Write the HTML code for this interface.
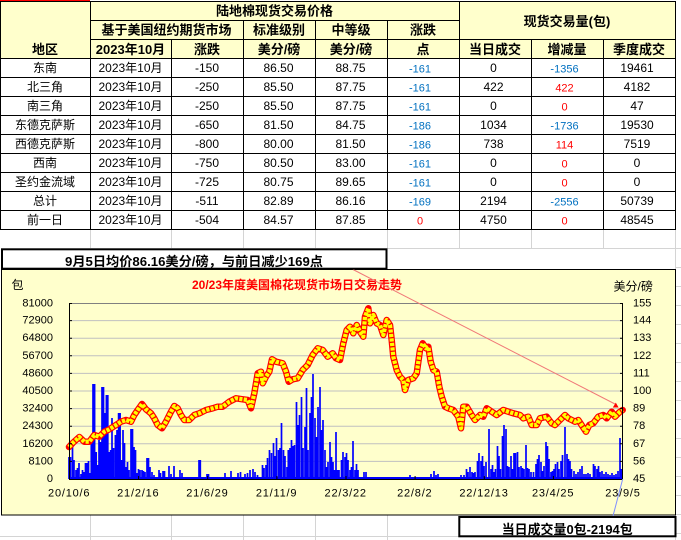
<!DOCTYPE html>
<html><head><meta charset="utf-8"><style>
html,body{margin:0;padding:0;background:#fff;}
svg{display:block;}
text{font-family:"Liberation Sans","Noto Sans CJK SC",sans-serif;dominant-baseline:central;}
.h{font-size:13px;font-weight:bold;fill:#000;text-anchor:middle;}
.d{font-size:12px;fill:#000;text-anchor:middle;}
.b{font-size:11px;fill:#0070C0;text-anchor:middle;}
.r{font-size:11px;fill:#FF0000;text-anchor:middle;}
.ax{font-size:11px;fill:#000;}
</style></head><body>
<svg width="681" height="540" viewBox="0 0 681 540" xmlns="http://www.w3.org/2000/svg">
<rect width="681" height="540" fill="#fff"/>
<g stroke="#D4D4D4" stroke-width="1">
<path d="M90.5 229V248M171.5 229V248M243.5 229V248M315.5 229V248M387.5 229V248M459.5 229V248M531.5 229V248M603.5 229V248M675.5 229V540"/>
<path d="M387 248.5H681M90.5 515V540M171.5 515V540M243.5 515V540M315.5 515V540M387.5 515V540M0 536.5H459"/>
<path d="M675 267.5H681M675 286.5H681M675 305.5H681M675 324.5H681M675 343.5H681M675 362.5H681M675 381.5H681M675 400.5H681M675 419.5H681M675 438.5H681M675 457.5H681M675 476.5H681M675 495.5H681M675 514.5H681M675 533.5H681"/>
</g>
<rect x="0" y="1" width="675" height="57" fill="#FFFFCC"/>
<rect x="0" y="0" width="90" height="1" fill="#FF0000"/>
<g stroke="#000" stroke-width="1">
<path d="M0 1.5H676M90 20.5H459M90 39.5H676M0 58.5H676M0 77.5H676M0 96.5H676M0 115.5H676M0 134.5H676M0 153.5H676M0 172.5H676M0 191.5H676M0 210.5H676M0 229.5H676"/>
<path d="M0.5 1V230M90.5 1V230M171.5 39V230M243.5 20V230M315.5 20V230M387.5 20V230M459.5 1V230M531.5 39V230M603.5 39V230M675.5 1V230"/>
</g>
<text class="h" x="274.5" y="11">陆地棉现货交易价格</text>
<text class="h" x="567" y="21.5">现货交易量(包)</text>
<text class="h" x="166.5" y="30">基于美国纽约期货市场</text>
<text class="h" x="279" y="30">标准级别</text>
<text class="h" x="351" y="30">中等级</text>
<text class="h" x="423" y="30">涨跌</text>
<text class="h" x="45" y="49.3">地区</text>
<text class="h" x="130.5" y="49.3">2023年10月</text>
<text class="h" x="207" y="49.3">涨跌</text>
<text class="h" x="279" y="49.3">美分/磅</text>
<text class="h" x="351" y="49.3">美分/磅</text>
<text class="h" x="423" y="49.3">点</text>
<text class="h" x="495" y="49.3">当日成交</text>
<text class="h" x="567" y="49.3">增减量</text>
<text class="h" x="639" y="49.3">季度成交</text>

<g>
<text class="d" x="45" y="68">东南</text><text class="d" x="130.5" y="68">2023年10月</text><text class="d" x="207" y="68">-150</text><text class="d" x="278.5" y="68">86.50</text><text class="d" x="350.5" y="68">88.75</text><text class="b" x="420" y="69.3">-161</text><text class="d" x="493.5" y="68">0</text><text class="b" x="564.5" y="69.3">-1356</text><text class="d" x="637" y="68">19461</text>
<text class="d" x="45" y="87">北三角</text><text class="d" x="130.5" y="87">2023年10月</text><text class="d" x="207" y="87">-250</text><text class="d" x="278.5" y="87">85.50</text><text class="d" x="350.5" y="87">87.75</text><text class="b" x="420" y="88.3">-161</text><text class="d" x="493.5" y="87">422</text><text class="r" x="564.5" y="88.3">422</text><text class="d" x="637" y="87">4182</text>
<text class="d" x="45" y="106">南三角</text><text class="d" x="130.5" y="106">2023年10月</text><text class="d" x="207" y="106">-250</text><text class="d" x="278.5" y="106">85.50</text><text class="d" x="350.5" y="106">87.75</text><text class="b" x="420" y="107.3">-161</text><text class="d" x="493.5" y="106">0</text><text class="r" x="564.5" y="107.3">0</text><text class="d" x="637" y="106">47</text>
<text class="d" x="45" y="125">东德克萨斯</text><text class="d" x="130.5" y="125">2023年10月</text><text class="d" x="207" y="125">-650</text><text class="d" x="278.5" y="125">81.50</text><text class="d" x="350.5" y="125">84.75</text><text class="b" x="420" y="126.3">-186</text><text class="d" x="493.5" y="125">1034</text><text class="b" x="564.5" y="126.3">-1736</text><text class="d" x="637" y="125">19530</text>
<text class="d" x="45" y="144">西德克萨斯</text><text class="d" x="130.5" y="144">2023年10月</text><text class="d" x="207" y="144">-800</text><text class="d" x="278.5" y="144">80.00</text><text class="d" x="350.5" y="144">81.50</text><text class="b" x="420" y="145.3">-186</text><text class="d" x="493.5" y="144">738</text><text class="r" x="564.5" y="145.3">114</text><text class="d" x="637" y="144">7519</text>
<text class="d" x="45" y="163">西南</text><text class="d" x="130.5" y="163">2023年10月</text><text class="d" x="207" y="163">-750</text><text class="d" x="278.5" y="163">80.50</text><text class="d" x="350.5" y="163">83.00</text><text class="b" x="420" y="164.3">-161</text><text class="d" x="493.5" y="163">0</text><text class="r" x="564.5" y="164.3">0</text><text class="d" x="637" y="163">0</text>
<text class="d" x="45" y="182">圣约金流域</text><text class="d" x="130.5" y="182">2023年10月</text><text class="d" x="207" y="182">-725</text><text class="d" x="278.5" y="182">80.75</text><text class="d" x="350.5" y="182">89.65</text><text class="b" x="420" y="183.3">-161</text><text class="d" x="493.5" y="182">0</text><text class="r" x="564.5" y="183.3">0</text><text class="d" x="637" y="182">0</text>
<text class="d" x="45" y="201">总计</text><text class="d" x="130.5" y="201">2023年10月</text><text class="d" x="207" y="201">-511</text><text class="d" x="278.5" y="201">82.89</text><text class="d" x="350.5" y="201">86.16</text><text class="b" x="420" y="202.3">-169</text><text class="d" x="493.5" y="201">2194</text><text class="b" x="564.5" y="202.3">-2556</text><text class="d" x="637" y="201">50739</text>
<text class="d" x="45" y="220">前一日</text><text class="d" x="130.5" y="220">2023年10月</text><text class="d" x="207" y="220">-504</text><text class="d" x="278.5" y="220">84.57</text><text class="d" x="350.5" y="220">87.85</text><text class="r" x="420" y="221.3">0</text><text class="d" x="493.5" y="220">4750</text><text class="r" x="564.5" y="221.3">0</text><text class="d" x="637" y="220">48545</text>
</g>

<rect x="1.5" y="269.5" width="674" height="245.5" fill="#FFFFCC" stroke="#000" stroke-width="1"/>
<g stroke="#C0C0C0" stroke-width="1">
<path d="M69 320.6H623M69 338.2H623M69 355.8H623M69 373.4H623M69 391H623M69 408.6H623M69 426.2H623M69 443.8H623M69 461.4H623"/>
</g>
<path d="M69 303.5H623" stroke="#808080" stroke-width="1"/>
<rect x="69" y="477" width="553" height="2" fill="#0000FF"/>
<path fill="none" stroke="#0000FF" stroke-width="1.7" d="M69 479V457M70.5 479V457M72.5 479V445M74 479V460M76 479V470M77.5 479V468M79 479V463M81 479V474M82.5 479V470M84 479V472M85.5 479V463M87 479V463M88.5 479V461M90 479V473M91.3 479V440M93 479V384M94.6 479V384M96.2 479V452M97.6 479V465M99 479V440M100.5 479V442M102 479V387M103.5 479V387M105 479V413M106.4 479V395M107.8 479V395M109.2 479V452M110.6 479V450M112 479V418M113.6 479V448M115.4 479V435M117 479V430M118.6 479V413M120.1 479V413M121.6 479V460M123 479V430M124.5 479V443M126 479V467M127.5 479V462M129 479V470M131 479V429M132.5 479V429M134 479V447M135.5 479V450M137 479V473M138.5 479V469M140 479V470M142 479V470M143.5 479V471M145 479V472M147 479V458M148.5 479V458M150 479V467M152 479V472M154 479V475M159 479V470M160.5 479V473M163 479V471M164.5 479V471M169 479V466M171 479V474M174 479V466M180 479V470M182 479V473M199 479V460M200.3 479V460M207 479V474M208.5 479V474M225 479V473M231 479V471
M238 479V473M240.5 479V472M245 479V474M247.5 479V473M250 479V470M253 479V469M255 479V472M257.5 479V475M262.5 479V465M264 479V468M266 479V465M267.5 479V458M269.5 479V450M271.5 479V453M273.5 479V443M275 479V456M276.5 479V438M278.5 479V450M280 479V448M281.5 479V423M283.5 479V450M285 479V456M287 479V467M288.3 479V450M290 479V448M291.5 479V440M293 479V446M294.5 479V445M296.5 479V402M298 479V425M299.5 479V415M301.5 479V397M303 479V448M305 479V427M306.5 479V388M308 479V450M310 479V413M311.5 479V397M313 479V374M315 479V418M316.5 479V437M318 479V407M320 479V387M321.5 479V430M323 479V420M325 479V450M326.5 479V467M328 479V462M330 479V442M331.5 479V457M333 479V462M334.5 479V470M336 479V432M337.5 479V470M339 479V470M341.5 479V460M343 479V452M345 479V457M346.5 479V453M348 479V460M350 479V470M351.5 479V467M353 479V441M355 479V470M356.5 479V464M358 479V470M364 479V472M366 479V472M410 479V475M431 479V474M434 479V471M436 479V475M438 479V474
M461 479V475M464 479V475M466.5 479V469M468 479V472M470 479V467M472 479V472M473.5 479V473M475 479V472M477.5 479V461M479 479V453M481 479V461M482.5 479V456M484 479V466M486 479V462M489 479V429M491 479V469M492.5 479V465M494 479V472M495.5 479V469M497.5 479V446M499 479V456M500.5 479V469M502.5 479V436M504 479V425M506 479V429M507.5 479V466M509 479V467M511 479V456M512.5 479V469M514 479V453M515.5 479V453M517.5 479V452M519 479V467M521 479V466M522.5 479V468M524 479V469M526 479V445M527.5 479V468M529 479V469M531 479V472M533.5 479V472M536 479V464M537.5 479V459M539 479V455M541 479V462M542.5 479V471M544 479V466M546 479V442M547.5 479V446M549 479V459M551 479V472M552.5 479V471M554 479V469M555.5 479V464M557.5 479V462M559 479V469M561 479V461M562.5 479V455M565 479V427M567 479V454M568.5 479V459M570 479V461M571.5 479V469M574 479V471M576 479V474M578 479V472M580 479V469M582 479V466M584 479V474M586 479V474M588 479V473M590 479V474M593.5 479V464M595 479V466M597 479V469M598.5 479V466M600 479V472M602 479V471M604 479V474M606 479V472M608 479V474M610 479V475M612 479V473M614 479V475M616 479V474M618 479V471M620 479V438M621.5 479V469"/>
<polyline fill="none" stroke="#FF0000" stroke-width="6.5" stroke-linejoin="round" stroke-linecap="round" points="69,447 72.7,443 76,440 79.3,437 84.3,441.7 89.3,441.7 94.3,435 99.3,436.7 104.3,431.7 109.3,429.3 116,425 121,421.7 126,420 131,421.7 134.3,415 137.7,410 142,404 146,409.3 151,413.3 154.3,418.3 157.7,425 162,428.3 166,421.7 171,411.7 174.3,406 177.7,408.3 181,415 184.3,420 189.3,420 194.3,415 199.3,413.3 206,410 212.7,408.3 217.7,406.7 222.7,406.7 229.3,401.7 236,398.3 242.7,399.3 247.7,400 251,408.3 254.3,393.3 257.7,373.3 261,371.7 262.7,383.3 266,376.7 269.3,371.7 272,359.3 276,361.7 282.7,363.3 286,371.7 288.7,381.7 292.7,379.3 297.7,378.3 302.7,370 307.7,365 312.7,355 317.7,348.3 322.7,350 327.7,356.7 332.7,353.3 336,358.3 340,360 343.3,343.3 346.7,330 350,326.7 353.3,333.3 356.7,325 360,331.7 363.3,336.7 365,316.7 368.3,308.3 370,323.3 373.3,315 376.7,323.3 380,325 383.3,335 386.7,320 390,325 391.7,340 393.3,356.7 396.7,370 400,376.7 403.3,380 405,390 408.3,380 413.3,378.3 416.7,373.3 420,350 422.7,343.3 426,348.3 428.3,346.7 430.7,361.7 433.3,370 436.7,371.7 439.3,386.7 441.7,396.7 445,406.7 448.3,408.3 453.3,410 458.3,416.7 461,428.3 463.3,406.7 466.7,406.7 471.7,415 475,420 480,415 483.3,416.7 486.7,408.3 491.7,411.7 496.7,415 503.3,410 508.3,411.7 513.3,413.3 520,415 523.3,418.3 528.3,416.7 531.7,425 536.7,425 540,418.3 546.7,416.7 551.7,423.3 555,425 560,420 565,415 568.3,418.3 571.7,420 575,421.7 578.3,420 582.7,426.7 586,431.7 589.3,425 593.3,423.3 598.3,416.7 603.3,415 606.7,418.3 611.7,411.7 615,416.7 620,411.7 622.7,410"/>
<polyline fill="none" stroke="#FFFF00" stroke-width="4.2" stroke-dasharray="3.2 1.3" stroke-linejoin="round" points="69,447 72.7,443 76,440 79.3,437 84.3,441.7 89.3,441.7 94.3,435 99.3,436.7 104.3,431.7 109.3,429.3 116,425 121,421.7 126,420 131,421.7 134.3,415 137.7,410 142,404 146,409.3 151,413.3 154.3,418.3 157.7,425 162,428.3 166,421.7 171,411.7 174.3,406 177.7,408.3 181,415 184.3,420 189.3,420 194.3,415 199.3,413.3 206,410 212.7,408.3 217.7,406.7 222.7,406.7 229.3,401.7 236,398.3 242.7,399.3 247.7,400 251,408.3 254.3,393.3 257.7,373.3 261,371.7 262.7,383.3 266,376.7 269.3,371.7 272,359.3 276,361.7 282.7,363.3 286,371.7 288.7,381.7 292.7,379.3 297.7,378.3 302.7,370 307.7,365 312.7,355 317.7,348.3 322.7,350 327.7,356.7 332.7,353.3 336,358.3 340,360 343.3,343.3 346.7,330 350,326.7 353.3,333.3 356.7,325 360,331.7 363.3,336.7 365,316.7 368.3,308.3 370,323.3 373.3,315 376.7,323.3 380,325 383.3,335 386.7,320 390,325 391.7,340 393.3,356.7 396.7,370 400,376.7 403.3,380 405,390 408.3,380 413.3,378.3 416.7,373.3 420,350 422.7,343.3 426,348.3 428.3,346.7 430.7,361.7 433.3,370 436.7,371.7 439.3,386.7 441.7,396.7 445,406.7 448.3,408.3 453.3,410 458.3,416.7 461,428.3 463.3,406.7 466.7,406.7 471.7,415 475,420 480,415 483.3,416.7 486.7,408.3 491.7,411.7 496.7,415 503.3,410 508.3,411.7 513.3,413.3 520,415 523.3,418.3 528.3,416.7 531.7,425 536.7,425 540,418.3 546.7,416.7 551.7,423.3 555,425 560,420 565,415 568.3,418.3 571.7,420 575,421.7 578.3,420 582.7,426.7 586,431.7 589.3,425 593.3,423.3 598.3,416.7 603.3,415 606.7,418.3 611.7,411.7 615,416.7 620,411.7 622.7,410"/>
<g stroke="#000" stroke-width="1">
<path d="M69.5 303V479.5M622.5 303V479.5M69 479.5H623"/>
<path d="M69 303.5H72M69 320.6H72M69 338.2H72M69 355.8H72M69 373.4H72M69 391H72M69 408.6H72M69 426.2H72M69 443.8H72M69 461.4H72"/>
<path d="M620 303.5H623M620 320.6H623M620 338.2H623M620 355.8H623M620 373.4H623M620 391H623M620 408.6H623M620 426.2H623M620 443.8H623M620 461.4H623"/>
<path d="M138.6 479V476M207.7 479V476M276.9 479V476M346 479V476M415.1 479V476M484.3 479V476M553.4 479V476"/>
</g>
<g>
<text class="ax" x="53" y="303.3" text-anchor="end">81000</text>
<text class="ax" x="53" y="320.6" text-anchor="end">72900</text>
<text class="ax" x="53" y="338.2" text-anchor="end">64800</text>
<text class="ax" x="53" y="355.8" text-anchor="end">56700</text>
<text class="ax" x="53" y="373.4" text-anchor="end">48600</text>
<text class="ax" x="53" y="391" text-anchor="end">40500</text>
<text class="ax" x="53" y="408.6" text-anchor="end">32400</text>
<text class="ax" x="53" y="426.2" text-anchor="end">24300</text>
<text class="ax" x="53" y="443.8" text-anchor="end">16200</text>
<text class="ax" x="53" y="461.4" text-anchor="end">8100</text>
<text class="ax" x="53" y="479" text-anchor="end">0</text>
</g>
<g>
<text class="ax" x="633" y="303.3">155</text>
<text class="ax" x="633" y="320.6">144</text>
<text class="ax" x="633" y="338.2">133</text>
<text class="ax" x="633" y="355.8">122</text>
<text class="ax" x="633" y="373.4">111</text>
<text class="ax" x="633" y="391">100</text>
<text class="ax" x="633" y="408.6">89</text>
<text class="ax" x="633" y="426.2">78</text>
<text class="ax" x="633" y="443.8">67</text>
<text class="ax" x="633" y="461.4">56</text>
<text class="ax" x="633" y="479">45</text>
</g>
<g style="letter-spacing:0.8px">
<text class="ax" x="69.2" y="493.3" text-anchor="middle">20/10/6</text>
<text class="ax" x="138.3" y="493.3" text-anchor="middle">21/2/16</text>
<text class="ax" x="207.4" y="493.3" text-anchor="middle">21/6/29</text>
<text class="ax" x="276.6" y="493.3" text-anchor="middle">21/11/9</text>
<text class="ax" x="345.7" y="493.3" text-anchor="middle">22/3/22</text>
<text class="ax" x="414.8" y="493.3" text-anchor="middle">22/8/2</text>
<text class="ax" x="484" y="493.3" text-anchor="middle">22/12/13</text>
<text class="ax" x="553.1" y="493.3" text-anchor="middle">23/4/25</text>
<text class="ax" x="623" y="493.3" text-anchor="middle">23/9/5</text>
</g>
<text x="11.5" y="285" style="font-size:12px;fill:#000">包</text>
<text x="613.5" y="286.5" style="font-size:12px;fill:#000">美分/磅</text>
<text x="297" y="285" text-anchor="middle" style="font-size:12px;font-weight:bold;fill:#FF0000" textLength="210" lengthAdjust="spacingAndGlyphs">20/23年度美国棉花现货市场日交易走势</text>
<line x1="353" y1="269.5" x2="615" y2="404" stroke="#F07878" stroke-width="1"/>
<polygon points="612.8,407.5 618.6,407.5 615.8,402.6" fill="#FF0000"/>
<line x1="622.7" y1="479" x2="613" y2="516" stroke="#7F8FFF" stroke-width="1"/>
<rect x="2" y="249.3" width="384.5" height="19.4" fill="#fff" stroke="#000" stroke-width="2"/>
<text x="65" y="261.5" style="font-size:13px;font-weight:bold;fill:#000" textLength="258" lengthAdjust="spacingAndGlyphs">9月5日均价86.16美分/磅，与前日减少169点</text>
<rect x="459.3" y="517" width="216.2" height="19.3" fill="#fff" stroke="#000" stroke-width="2"/>
<text x="501.7" y="529.5" style="font-size:13px;font-weight:bold;fill:#000" textLength="131" lengthAdjust="spacingAndGlyphs">当日成交量0包-2194包</text>
</svg>
</body></html>
